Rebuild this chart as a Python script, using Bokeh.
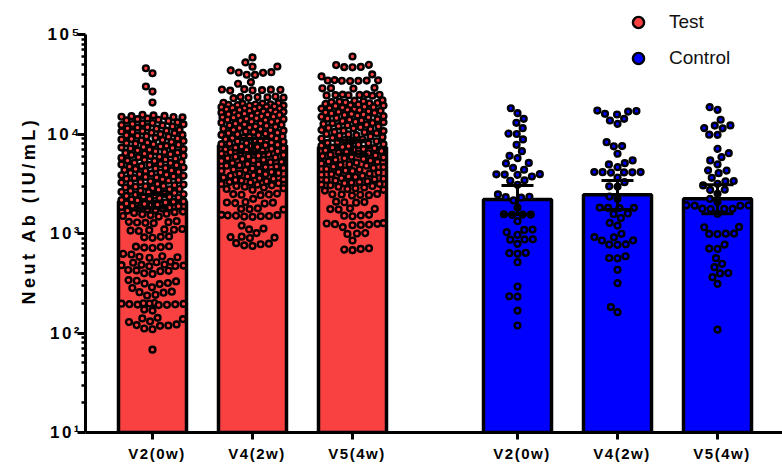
import math
import numpy as np
from bokeh.plotting import figure
from bokeh.document import Document
from bokeh.events import DocumentReady
from bokeh.models import (FixedTicker, Legend, LegendItem, CustomJS, Range1d)
from bokeh.embed import file_html
from bokeh.resources import INLINE

# ---------------- data ----------------
categories = ["V2(0w)", "V4(2w)", "V5(4w)"]
groups = ["Test", "Control"]

test_v2 = [
    45800, 40800, 30000, 26700, 20700,
    15600, 15400, 15200, 15100, 14900, 14800, 14700,
    14300, 14100, 13900, 13700, 13500,
    13100, 12900, 12800, 12600, 12500, 12300, 12200,
    11900, 11700, 11600, 11400, 11300,
    11000, 10800, 10700, 10600, 10500, 10300, 10200,
    9950, 9800, 9700, 9600, 9500, 9400,
    9150, 9000, 8900, 8800, 8700, 8600, 8500,
    8300, 8200, 8100, 8000, 7900, 7800,
    7600, 7500, 7400, 7300, 7250, 7150, 7050,
    6950, 6850, 6700, 6600, 6500, 6450,
    6350, 6250, 6150, 6050, 6000, 5900, 5850,
    5750, 5650, 5550, 5500, 5400, 5350,
    5250, 5150, 5100, 5000, 4950, 4900, 4850,
    4750, 4700, 4600, 4550, 4500, 4450,
    4350, 4300, 4250, 4150, 4100, 4050, 4000,
    3950, 3900, 3850, 3800, 3750, 3700,
    3650, 3600, 3550, 3500, 3450, 3400, 3350,
    3300, 3250, 3200, 3150, 3100, 3050,
    3000, 2980, 2950, 2900, 2850, 2800, 2780,
    2750, 2700, 2680, 2620, 2600, 2550,
    2500, 2480, 2450, 2400, 2380, 2350, 2330,
    2300, 2270, 2230, 2200, 2170, 2150,
    2100, 2080, 2050, 2000, 1980, 1950, 1930,
    1900, 1880, 1850, 1820, 1800, 1780,
    1750, 1720, 1700, 1660, 1640, 1610,
    1580, 1560, 1530, 1500, 1480,
    1330, 1310, 1300, 1290, 1280, 1270,
    1110, 1100, 1090, 1080, 1070, 1060,
    935, 925, 915, 905,
    745, 738, 730, 722, 715,
    625, 615,
    590, 583, 577, 570,
    520, 514, 508,
    488, 484, 480, 476, 472, 468,
    430, 426, 422, 418,
    398, 392,
    340, 335, 330,
    318, 314, 310,
    288, 283,
    260, 257, 254,
    242, 238,
    200, 199, 198, 197, 196, 195, 194, 193, 192, 191,
    172, 168,
    142, 140, 138,
    131, 129,
    122, 120, 119, 118,
    111, 109,
    68,
]

test_v4 = [
    58800, 52400, 47700, 47500, 43500, 41800, 41500, 41200, 39400, 39200,
    33200, 32000,
    28200, 28000, 27900, 27800, 27600, 27500, 27300,
    23800, 23600, 23500, 23400, 23200, 23100, 22900,
    20600, 20400, 20200, 20100, 19900, 19800, 19600, 19500, 19300, 19200,
    18900, 18700, 18600, 18400, 18300, 18100, 18000, 17800, 17700,
    17400, 17200, 17000, 16900, 16700, 16600, 16400, 16300, 16100, 16000,
    15800, 15600, 15500, 15300, 15200, 15000, 14900, 14700, 14600,
    14400, 14200, 14100, 13900, 13800, 13600, 13500, 13300, 13200,
    13000, 12800, 12700, 12500, 12400, 12200, 12100, 11900, 11800,
    11600, 11500, 11300, 11200, 11000, 10900, 10800, 10600, 10500,
    10300, 10200, 10100, 9950, 9800, 9700, 9550, 9450, 9350,
    9200, 9100, 9000, 8850, 8750, 8650, 8550, 8450, 8350,
    8200, 8100, 8000, 7900, 7800, 7700, 7600, 7500, 7400,
    7300, 7200, 7100, 7000, 6900, 6800, 6700, 6650, 6550,
    6450, 6350, 6250, 6150, 6050, 5950, 5900, 5800,
    5700, 5600, 5500, 5450, 5350, 5250, 5200, 5100,
    5000, 4950, 4850, 4800, 4700, 4650, 4550, 4500,
    4400, 4350, 4250, 4200, 4150, 4050, 4000,
    3950, 3850, 3800, 3750, 3650, 3600, 3550,
    3500, 3450, 3400, 3350, 3300, 3250, 3200,
    3150, 3100, 3050, 3000, 2950, 2900, 2850, 2800, 2750,
    2520, 2490, 2470, 2450, 2430,
    2230,
    2070, 2050, 2040, 2020, 2000,
    1790, 1770, 1760, 1740,
    1540, 1530, 1520, 1510, 1500, 1490, 1480, 1470,
    1200,
    1120, 1100,
    1010,
    930, 920, 910, 900,
    800, 790, 780,
    760, 750,
]

test_v5 = [
    60100, 49600, 49300, 47200, 47000, 46800, 39700, 37900,
    34800, 34600, 34500, 34400, 34300, 34200, 34100,
    29100, 28900, 28800, 28600,
    25000, 24900, 24800, 24700, 24600, 24500, 24400, 24300,
    21800, 21600, 21300, 21100, 20900, 20700, 20500, 20300, 20100,
    19800, 19500, 19300, 19100, 18800, 18600, 18400, 18200, 18000,
    17700, 17500, 17300, 17100, 16900, 16700, 16500, 16300, 16100,
    15900, 15700, 15500, 15300, 15100, 14900, 14700, 14500, 14300,
    14100, 13900, 13700, 13500, 13300, 13100, 12900, 12800, 12600,
    12400, 12200, 12000, 11900, 11700, 11500, 11400, 11200, 11000,
    10800, 10700, 10500, 10400, 10200, 10000, 9900, 9750, 9600,
    9450, 9300, 9150, 9000, 8850, 8700, 8600, 8450, 8300,
    8150, 8050, 7900, 7800, 7650, 7550, 7400, 7300, 7200,
    7050, 6950, 6850, 6750, 6600, 6500, 6400, 6300,
    6200, 6100, 6000, 5900, 5800, 5700, 5600, 5500,
    5400, 5300, 5250, 5150, 5050, 4950, 4900, 4800,
    4700, 4650, 4550, 4450, 4400, 4300, 4250,
    4150, 4100, 4000, 3950, 3900, 3800, 3750,
    3700, 3600, 3550, 3500, 3450, 3400, 3350,
    3300, 3250, 3200, 3150, 3100, 3050, 3000,
    2950, 2900, 2850, 2800, 2750, 2700,
    2500, 2480, 2470, 2450, 2430, 2410,
    2090, 2070, 2060, 2040,
    1790, 1770, 1760, 1740,
    1540, 1520, 1510, 1490,
    1270, 1260, 1250, 1240, 1230, 1220, 1210,
    1160,
    1010, 1000, 990,
    850,
    710, 700, 690, 680,
]

control_v2 = [
    18150, 16200, 14200, 12960, 11430, 10100, 10000, 8810, 7790, 6720,
    6040, 5710, 5120, 5060, 4570, 4370, 3950, 3930, 3910, 3890,
    3740, 3430, 3390, 3090, 2470, 2340, 2320, 2300, 2150, 1820,
    1560, 1550, 1550, 1540, 1330, 1095, 1085, 1030, 970, 875,
    871, 867, 787, 640, 634, 628, 515, 293, 234, 232, 168, 119,
]

control_v4 = [
    17200, 17000, 16800, 15960, 15700, 14200, 13670, 12650, 8280, 7560,
    7520, 6330, 5420, 5090, 4940, 4640, 4150, 4140, 4130, 4120,
    4110, 4100, 3650, 3280, 2980, 2960, 2350, 2230, 1820, 1810,
    1810, 1800, 1590, 1570, 1430, 1280, 1200, 993, 920, 916,
    853, 849, 778, 774, 770, 591, 567, 563, 432, 317, 182, 162,
]

control_v5 = [
    18600, 17500, 13900, 12200, 12140, 11460, 11400, 9840, 9800, 7100,
    6410, 5850, 5420, 4940, 4310, 4290, 4040, 3630, 3370, 3350,
    3160, 3040, 2760, 2740, 2510, 2230, 2070, 1920, 1915, 1905,
    1900, 1775, 1770, 1765, 1760, 1580, 1165, 1155, 998, 995,
    991, 988, 774, 705, 699, 565, 496, 459, 401, 397, 364, 312, 108,
]

# bar heights (geometric means) and 95% CI
gm_test = [2100, 7650, 7360]
gm_control = [2200, 2450, 2230]
ci_low_test = [1790, 6500, 6250]
ci_high_test = [2470, 9000, 8650]
ci_low_control = [1550, 1740, 1580]
ci_high_control = [3030, 3410, 3090]

y_tick_values = [10, 100, 1000, 10000, 100000]
y_tick_labels = ["10\u00b9", "10\u00b2", "10\u00b3", "10\u2074", "10\u2075"]
Y_MIN, Y_AXIS_MAX = 10, 100000

# ---------------- layout / style ----------------
RED = "#FA4141"
BLUE = "#0000FF"
FONT = "Liberation Sans"
W, H = 782, 466
B_LEFT, B_RIGHT, B_BOTTOM = 85, 0, 34
AXIS_TOP_PX = 34            # where the y axis (10^5) ends, from the top
X_START, X_END = -0.67, 6.30
GROUP_GAP = 3.65
BAR_W = 0.68
FRAME_W = W - B_LEFT - B_RIGHT
FRAME_H = H - B_BOTTOM
PX_PER_UNIT = FRAME_W / (X_END - X_START)
DECADES = math.log10(Y_AXIS_MAX / Y_MIN)
PX_PER_DEC = (FRAME_H - AXIS_TOP_PX) / DECADES
Y_END = Y_MIN * 10 ** (FRAME_H / PX_PER_DEC)   # frame runs up to the page top
LABEL_SHIFT = AXIS_TOP_PX / 2 + 3              # centre the y label on the drawn axis

p = figure(width=W, height=H, y_axis_type="log",
           x_range=Range1d(X_START, X_END), y_range=Range1d(Y_MIN, Y_END),
           output_backend="svg", toolbar_location=None,
           min_border_left=B_LEFT, min_border_right=B_RIGHT,
           min_border_top=0, min_border_bottom=B_BOTTOM)
p.outline_line_color = None
p.xgrid.visible = False
p.ygrid.visible = False
p.background_fill_color = "white"


def swarm_offsets(vals, d, half):
    ys = np.log10(np.asarray(vals, dtype=float)) * PX_PER_DEC
    order = np.argsort(ys, kind="stable")
    px, py = [], []
    xs = np.zeros(len(ys))
    grid = np.linspace(-half, half, int(2 * half) + 1)
    for i in order:
        y = ys[i]
        nb = [(a, b) for a, b in zip(px, py) if abs(b - y) < d]
        cands = [0.0]
        for a, b in nb:
            dx = math.sqrt(max(d * d - (b - y) ** 2, 0.0))
            cands.extend([a - dx, a + dx])
        valid = [c for c in cands
                 if abs(c) <= half + 1e-9 and
                 all((c - a) ** 2 + (y - b) ** 2 >= d * d - 1e-6 for a, b in nb)]
        if valid:
            x = min(valid, key=lambda c: (abs(c), c))
        else:
            x = max(grid, key=lambda c: min((c - a) ** 2 + (y - b) ** 2 for a, b in nb))
        xs[i] = x
        px.append(x)
        py.append(y)
    return xs / PX_PER_UNIT


group_data = [
    ([test_v2, test_v4, test_v5], gm_test, ci_low_test, ci_high_test, RED, 31),
    ([control_v2, control_v4, control_v5], gm_control, ci_low_control, ci_high_control, BLUE, 34),
]

tick_x = []
tick_lab = {}
legend_renderers = []
for g, (series, gm, lo, hi, color, half) in enumerate(group_data):
    xs = [i + g * GROUP_GAP for i in range(len(categories))]
    for xv, lab in zip(xs, categories):
        tick_x.append(xv)
        tick_lab[xv] = lab
    p.vbar(x=xs, top=gm, bottom=Y_MIN, width=BAR_W, fill_color=color,
           line_color="black", line_width=3.5)
    first = None
    for xv, vals in zip(xs, series):
        offs = swarm_offsets(vals, 8.3, half)
        r = p.scatter(x=list(xv + offs), y=vals, size=5.8, fill_color=color,
                      line_color="black", line_width=2.4)
        if first is None:
            first = r
    legend_renderers.append(first)
    p.segment(x0=xs, x1=xs, y0=lo, y1=hi, line_color="black", line_width=3)
    p.segment(x0=[x - 0.16 for x in xs], x1=[x + 0.16 for x in xs], y0=hi, y1=hi,
              line_color="black", line_width=3)
    p.segment(x0=[x - 0.16 for x in xs], x1=[x + 0.16 for x in xs], y0=lo, y1=lo,
              line_color="black", line_width=3)

# legend
legend = Legend(items=[LegendItem(label=groups[0], renderers=[legend_renderers[0]]),
                       LegendItem(label=groups[1], renderers=[legend_renderers[1]])],
                location=(538, 360), orientation="vertical",
                glyph_width=30, glyph_height=28, label_height=26, spacing=8,
                padding=0, margin=0, label_standoff=16,
                border_line_color=None, background_fill_alpha=0,
                label_text_font=FONT, label_text_font_size="19px",
                label_text_color="#111111")
p.add_layout(legend)

# x axis
xa = p.xaxis[0]
xa.ticker = FixedTicker(ticks=tick_x, minor_ticks=[])
xa.major_label_overrides = tick_lab
xa.axis_line_width = 3
xa.major_tick_line_width = 3
xa.major_tick_out = 7
xa.major_tick_in = 0
xa.minor_tick_line_color = None
xa.major_label_standoff = 5
xa.major_label_text_font = FONT
xa.major_label_text_font_style = "bold"
xa.major_label_text_font_size = "15px"
xa.major_label_text_color = "black"

# y axis (drawn only between 10^1 and 10^5)
minor = [m * 10 ** e for e in range(1, 5) for m in range(2, 10)]
ya = p.yaxis[0]
ya.bounds = (Y_MIN, Y_AXIS_MAX)
ya.ticker = FixedTicker(ticks=y_tick_values, minor_ticks=minor)
ya.major_label_overrides = dict(zip(y_tick_values, y_tick_labels))
ya.axis_line_width = 3
ya.major_tick_line_width = 3
ya.major_tick_out = 8
ya.major_tick_in = 0
ya.minor_tick_line_width = 2.5
ya.minor_tick_out = 4
ya.minor_tick_in = 0
ya.major_label_standoff = 3
ya.major_label_text_font = FONT
ya.major_label_text_font_style = "bold"
ya.major_label_text_font_size = "17px"
ya.major_label_text_color = "black"
ya.axis_label = "Neut Ab (IU/mL)"
ya.axis_label_text_font = FONT
ya.axis_label_text_font_style = "bold"
ya.axis_label_text_font_size = "18px"
ya.axis_label_text_color = "black"
ya.axis_label_standoff = 5

# letter spacing of the texts (as in the reference), and the y label centred on the axis
spacing_js = CustomJS(args=dict(shift=LABEL_SHIFT), code="""
function sp(t) {
  const s = (t.textContent || '').trim();
  if (s === 'Neut Ab (IU/mL)') return '3.5px';
  if (s === 'Test' || s === 'Control') return '2.3px';
  if (s.startsWith('V')) return '1.5px';
  if (s.startsWith('10')) return '2.5px';
  return null;
}
function fix(root) {
  root.querySelectorAll('text, tspan').forEach(t => {
    const v = sp(t);
    if (v && t.getAttribute('letter-spacing') !== v) {
      t.setAttribute('letter-spacing', v);
      t.style.letterSpacing = v;
    }
    if ((t.textContent || '').trim() === 'Neut Ab (IU/mL)' && t.getAttribute('dx') !== String(-shift)) {
      t.setAttribute('dx', String(-shift));
    }
  });
}
function walk(root) {
  fix(root);
  root.querySelectorAll('*').forEach(el => {
    const sr = el.shadowRoot;
    if (sr) {
      if (!sr.__ls_obs) {
        const o = new MutationObserver(() => walk(sr));
        o.observe(sr, {childList: true, subtree: true, characterData: true});
        sr.__ls_obs = o;
      }
      walk(sr);
    }
  });
}
walk(document);
setInterval(() => walk(document), 40);
""")

doc = Document()
doc.add_root(p)
doc.js_on_event(DocumentReady, spacing_js)

open("out.html", "w").write(file_html(p, INLINE))
